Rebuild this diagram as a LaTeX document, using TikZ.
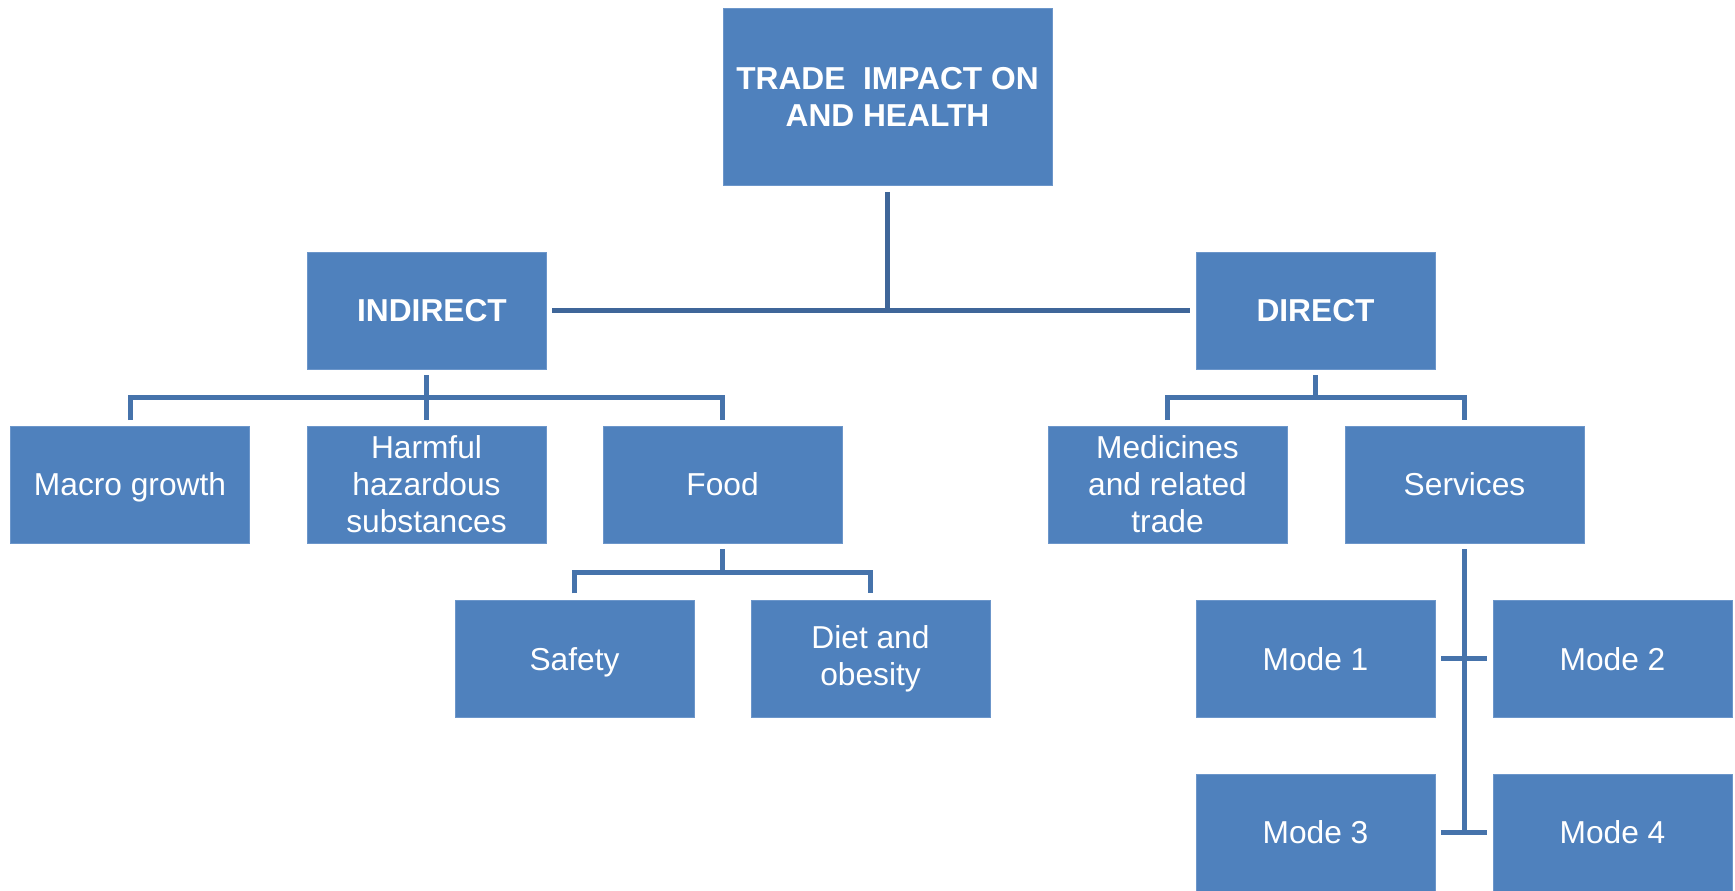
\documentclass[tikz,border=0pt]{standalone}
\usepackage{fontspec}
\setmainfont{Liberation Sans}
\usetikzlibrary{calc}
\definecolor{boxblue}{HTML}{4F81BD}
\definecolor{boxedge}{HTML}{6C96CA}
\definecolor{linkblue}{HTML}{4673AB}
\definecolor{trunkblue}{HTML}{3F6699}

\begin{document}
\begin{tikzpicture}[x=0.5pt,y=-0.5pt,
  topic/.style={rectangle, fill=boxblue, draw=boxedge, line width=0.4pt,
    minimum width=119.5pt, minimum height=58.5pt, inner sep=0pt,
    text=white, align=center, font=\fontsize{15.85}{18.5}\selectfont},
  head/.style={topic, font=\fontsize{15.85}{18.5}\selectfont\bfseries},
  nodepth/.style={text depth=0pt},
  link/.style={draw=linkblue, line width=2.5pt},
  trunk/.style={draw=trunkblue, line width=2.3pt}]

\useasboundingbox (0,0) rectangle (1735,890);

% root
\node[head, minimum width=164.5pt, minimum height=88.5pt] (top) at (887.5,97)
  {TRADE\ \ IMPACT ON\\AND HEALTH};

% second level
\node[head] (indirect) at (426.5,310.5) {\hspace*{5.5pt}INDIRECT};
\node[head] (direct)   at (1315.5,310.5) {DIRECT};

% third level
\node[topic, nodepth] (macro) at (130,484.5) {Macro growth};
\node[topic] (harmful)   at (426.5,484.5)  {Harmful\\hazardous\\substances};
\node[topic] (food)      at (722.5,484.5)  {Food};
\node[topic] (medicines) at (1167.5,484.5) {Medicines\\and related\\trade};
\node[topic] (services)  at (1464.5,484.5) {Services};

% fourth level
\node[topic, nodepth] (safety) at (574.5,658.8) {Safety};
\node[topic] (diet)   at (870.5,658.8)  {Diet and\\obesity};
\node[topic] (mode1)  at (1315.5,658.8) {Mode 1};
\node[topic] (mode2)  at (1612.5,658.8) {Mode 2};
\node[topic] (mode3)  at (1315.5,832.5) {Mode 3};
\node[topic] (mode4)  at (1612.5,832.5) {Mode 4};

% root to the two branches
\draw[trunk] ($(top.south)+(0,6)$) -- (top.south |- indirect.east);
\draw[trunk] ($(indirect.east)+(6,0)$) -- ($(direct.west)+(-6,0)$);

% indirect bracket
\coordinate (ib) at ($(indirect.south)+(0,28.5)$);
\draw[link] ($(indirect.south)+(0,6)$) -- ($(harmful.north)+(0,-5.5)$);
\draw[link] ($(macro.north)+(0,-5.5)$) -- (macro.north |- ib)
  -- (food.north |- ib) -- ($(food.north)+(0,-5.5)$);

% direct bracket
\coordinate (db) at ($(direct.south)+(0,28.5)$);
\draw[link] ($(direct.south)+(0,6)$) -- (db);
\draw[link] ($(medicines.north)+(0,-5.5)$) -- (medicines.north |- db)
  -- (services.north |- db) -- ($(services.north)+(0,-5.5)$);

% food bracket
\coordinate (fb) at ($(food.south)+(0,29.5)$);
\draw[link] ($(food.south)+(0,6)$) -- (fb);
\draw[link] ($(safety.north)+(0,-6.5)$) -- (safety.north |- fb)
  -- (diet.north |- fb) -- ($(diet.north)+(0,-6.5)$);

% services spine with the mode ticks
\draw[link] ($(services.south)+(0,6)$) -- ($(services.south |- mode3.east)+(0,2.5)$);
\draw[link] ($(mode1.east)+(6,0)$) -- ($(mode2.west)+(-6,0)$);
\draw[link] ($(mode3.east)+(6,0)$) -- ($(mode4.west)+(-6,0)$);

\end{tikzpicture}
\end{document}
